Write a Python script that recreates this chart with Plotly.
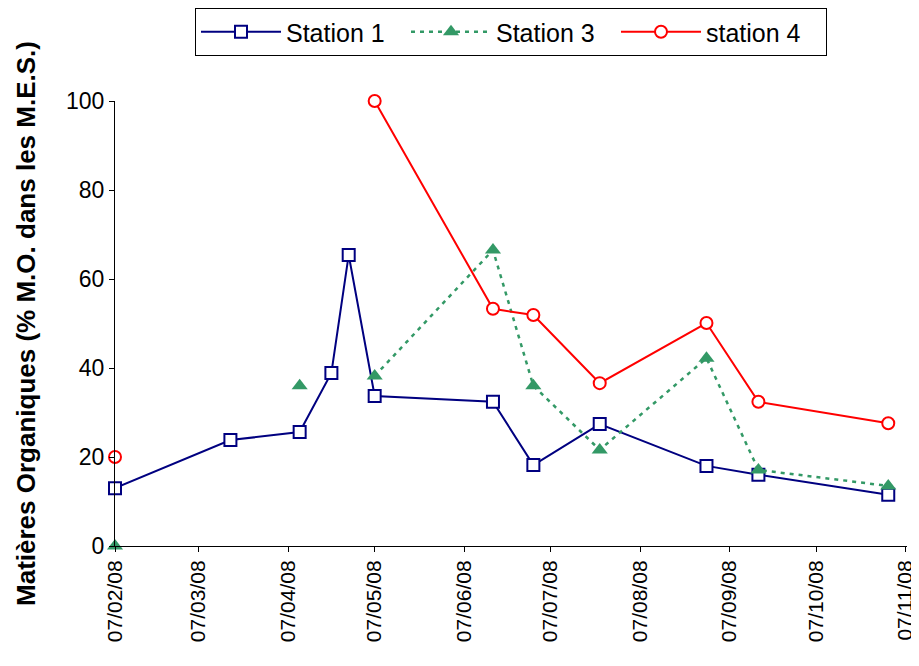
import plotly.graph_objects as go

dates = ["2008-02-07", "2008-03-18", "2008-04-11", "2008-04-22", "2008-04-28",
         "2008-05-07", "2008-06-17", "2008-07-01", "2008-07-24", "2008-08-30",
         "2008-09-17", "2008-11-01"]
station1 = [13.0, 23.8, 25.6, 38.9, 65.4, 33.7, 32.4, 18.2, 27.4, 18.0, 16.0, 11.5]
station3 = [0, None, 36.0, None, None, 38.2, 66.5, 36.0, 21.6, 42.2, 17.1, 13.5]
station4 = [20.0, None, None, None, None, 100.0, 53.3, 51.9, 36.6, 50.1, 32.4, 27.6]

tick_vals = ["2008-02-07", "2008-03-07", "2008-04-07", "2008-05-07", "2008-06-07",
             "2008-07-07", "2008-08-07", "2008-09-07", "2008-10-07", "2008-11-07"]
tick_text = ["07/02/08", "07/03/08", "07/04/08", "07/05/08", "07/06/08",
             "07/07/08", "07/08/08", "07/09/08", "07/10/08", "07/11/08"]

fig = go.Figure()
fig.add_trace(go.Scatter(
    x=dates, y=station1, name="Station 1", mode="lines+markers",
    line=dict(color="#000080", width=2),
    marker=dict(symbol="square", size=12, color="white",
                line=dict(color="#000080", width=2)),
    connectgaps=False, cliponaxis=False))
fig.add_trace(go.Scatter(
    x=dates, y=station3, name="Station 3", mode="lines+markers",
    line=dict(color="#339966", width=2.5, dash="4px,5px"),
    marker=dict(symbol="triangle-up", size=14, color="#339966",
                line=dict(color="#339966", width=0)),
    connectgaps=False, cliponaxis=False))
fig.add_trace(go.Scatter(
    x=dates, y=station4, name="station 4", mode="lines+markers",
    line=dict(color="#FF0000", width=2),
    marker=dict(symbol="circle", size=12, color="white",
                line=dict(color="#FF0000", width=2)),
    connectgaps=False, cliponaxis=False))

# page body adds an 8px offset; figure size compensates
fig.update_layout(
    width=911, height=658,
    margin=dict(l=107, r=12, t=93, b=120, autoexpand=False),
    paper_bgcolor="white", plot_bgcolor="white",
    font=dict(family="Liberation Sans, Arial, sans-serif", size=21, color="black"),
    legend=dict(orientation="h", x=0.5, xanchor="center",
                yref="container", y=1.0, yanchor="top",
                bordercolor="black", borderwidth=1, bgcolor="white",
                font=dict(size=25), tracegroupgap=0,
                itemwidth=80, entrywidth=115),
    showlegend=True,
)
fig.update_xaxes(
    type="date", range=["2008-02-07", "2008-11-07 12:00"],
    tickvals=tick_vals, ticktext=tick_text, tickangle=-90,
    showline=True, linecolor="black", linewidth=1,
    ticks="outside", ticklen=5, tickcolor="black", ticklabeloverflow="allow",
    showgrid=False, zeroline=False, tickfont=dict(size=21), automargin=False)
fig.update_yaxes(
    range=[0, 100], tickvals=[0, 20, 40, 60, 80, 100],
    showline=True, linecolor="black", linewidth=1,
    ticks="outside", ticklen=5, tickcolor="black",
    showgrid=False, zeroline=False, tickfont=dict(size=23), automargin=False,
    title=dict(text="<b>Matières Organiques (% M.O. dans les M.E.S.)</b>",
               font=dict(size=26), standoff=22))

fig.write_html("out.html")
